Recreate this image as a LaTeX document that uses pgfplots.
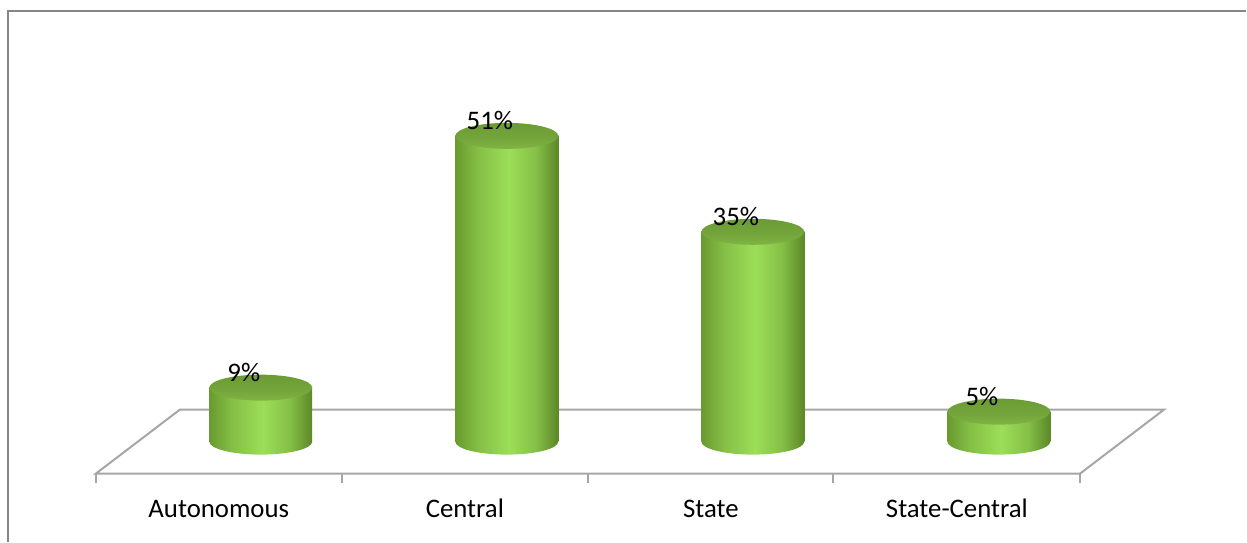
\documentclass[border=0pt]{standalone}
\usepackage{fontspec}
\setmainfont{Carlito}
\usepackage{pgfplots}
\usepackage{pgfplotstable}
\pgfplotsset{compat=1.18}
\definecolor{cylL}{HTML}{699A2F}
\definecolor{cylM}{HTML}{9CDE58}
\definecolor{cylR}{HTML}{5C8828}
\definecolor{capT}{HTML}{6C9B35}
\definecolor{capB}{HTML}{80B444}
\definecolor{floorc}{HTML}{A6A6A6}
\definecolor{framec}{HTML}{868686}
\pgfdeclarehorizontalshading{cylside}{100bp}{color(0bp)=(cylL); color(25bp)=(cylL); color(36bp)=(cylL!45!cylM); color(51bp)=(cylM); color(64bp)=(cylR!35!cylM); color(75bp)=(cylR); color(100bp)=(cylR)}
\pgfdeclareverticalshading{cylcap}{100bp}{color(0bp)=(capB); color(25bp)=(capB); color(45bp)=(capT!60!capB); color(75bp)=(capT); color(100bp)=(capT)}
\pgfdeclareplotmark{cylbase}{%
  \pgfpathellipse{\pgfpointorigin}{\pgfqpoint{25.75pt}{0pt}}{\pgfqpoint{0pt}{6.5pt}}%
  \pgfshadepath{cylside}{0}\pgfusepath{discard}}
\pgfdeclareplotmark{cyltop}{%
  \pgfpathellipse{\pgfpointorigin}{\pgfqpoint{25.75pt}{0pt}}{\pgfqpoint{0pt}{6.5pt}}%
  \pgfshadepath{cylcap}{0}\pgfusepath{discard}}
\pgfplotstableread{
x y
0 9
1 51
2 35
3 5
}\datatable
\begin{document}
\begin{tikzpicture}
\begin{axis}[
  at={(0,0)}, anchor=south west,
  scale only axis, width=623.5pt, height=271pt,
  xmin=-1.0599, xmax=4.0041, ymin=-16.667, ymax=73.667,
  hide axis, clip=false,
  /pgf/number format/assume math mode=true,
  cyl/.style={ybar, bar width=51.5pt, bar shift=0pt, draw=none, shade, shading=cylside},
]
\path (rel axis cs:0,0) rectangle (rel axis cs:1,1);
% frame
\draw[framec, line width=1.1pt] (rel axis cs:0.00642,0) -- (rel axis cs:0.00642,0.9797) -- (rel axis cs:1,0.9797);
% floor
\draw[floorc, line width=1pt, line join=miter] (axis cs:-0.6701,-5.333) -- (axis cs:3.330,-5.333) -- (axis cs:3.671,5.333) -- (axis cs:-0.3289,5.333) -- cycle;
\pgfplotsinvokeforeach{-0.6701,0.3289,1.328,2.327,3.330}{
  \draw[floorc, line width=1pt] (axis cs:#1,-5.333) -- (axis cs:#1,-6.833);
}
% category labels
\node[font=\fontsize{13.4}{16}\selectfont, text=black] at (axis cs:-0.1706,-11.2) {Autonomous};
\node[font=\fontsize{13.4}{16}\selectfont, text=black] at (axis cs:0.8294,-11.2) {Central};
\node[font=\fontsize{13.4}{16}\selectfont, text=black] at (axis cs:1.8294,-11.2) {State};
\node[font=\fontsize{13.4}{16}\selectfont, text=black] at (axis cs:2.8294,-11.2) {State-Central};
% cylinder bases
\addplot[only marks, mark=cylbase] coordinates {(0,0) (1,0) (2,0) (3,0)};
% cylinder bodies, one plot each so each is shaded on its own
\addplot[cyl] coordinates {(0,9)};
\addplot[cyl] coordinates {(1,51)};
\addplot[cyl] coordinates {(2,35)};
\addplot[cyl] coordinates {(3,5)};
% cylinder tops with value labels
\addplot[only marks, mark=cyltop, point meta=y,
  nodes near coords={\pgfmathprintnumber{\pgfplotspointmeta}\%},
  every node near coord/.append style={anchor=center, xshift=-8.5pt, yshift=7.5pt,
    font=\fontsize{13.4}{16}\selectfont, text=black}]
  table[x=x, y=y] {\datatable};
\end{axis}
\end{tikzpicture}
\end{document}
